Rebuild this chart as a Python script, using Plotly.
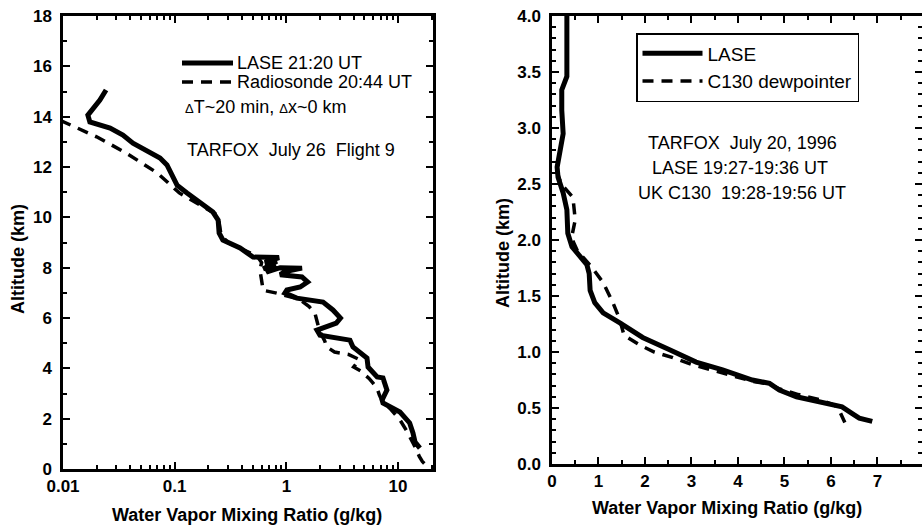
import plotly.graph_objects as go

# ---------------- Left panel data (log x) ----------------
lase_l_x = [0.0243, 0.0214, 0.0167, 0.0174, 0.0264, 0.0344, 0.0423, 0.0565, 0.0739, 0.0853,
            0.0966, 0.105, 0.129, 0.168, 0.220, 0.245, 0.25, 0.27, 0.385, 0.503,
            0.75, 0.86, 0.64, 0.82, 0.62, 0.80, 0.66, 0.88, 1.38, 0.98, 0.88,
            1.38, 1.55, 1.33, 1.01, 0.97, 1.24, 2.13, 2.61, 3.05, 2.8, 2.13, 1.88, 2.0, 3.02,
            3.71, 3.95, 4.79, 5.27, 5.39, 5.96, 6.5, 7.33, 7.95, 7.2, 7.33, 10.4, 12.7,
            13.6, 14.2, 15.7]
lase_l_alt = [15.06, 14.66, 14.06, 13.79, 13.55, 13.27, 12.95, 12.67, 12.36, 12.08,
              11.6, 11.28, 10.97, 10.61, 10.21, 9.89, 9.38, 9.1, 8.78, 8.42,
              8.42, 8.40, 8.2, 8.25, 7.95, 8.1, 7.82, 8.0, 7.98, 7.85, 7.72,
              7.63, 7.43, 7.23, 7.11, 6.99, 6.79, 6.63, 6.32, 6.0, 5.8, 5.64, 5.52, 5.32, 5.2,
              5.12, 4.85, 4.53, 4.41, 4.05, 3.85, 3.66, 3.62, 3.14, 2.74, 2.62, 2.26, 1.83,
              1.43, 1.07, 0.83]

sonde_x = [0.0095, 0.02, 0.037, 0.07, 0.11, 0.18, 0.23, 0.25, 0.26, 0.3, 0.42, 0.55, 0.6,
           0.58, 0.6, 0.62, 0.8, 1.0, 1.3, 1.6, 1.8, 1.9, 2.0, 2.2, 2.3, 2.7, 3.6, 4.5,
           4.0, 4.6, 5.5, 6.0, 6.5, 6.8, 7.2, 8.5, 10.4, 12.0, 13.6, 14.5, 15.5, 16.5, 18.5]
sonde_alt = [13.85, 13.2, 12.55, 11.76, 10.97, 10.41, 10.15, 9.8, 9.3, 9.0, 8.7, 8.45, 8.2,
             7.9, 7.5, 7.1, 7.0, 6.9, 6.75, 6.45, 6.2, 5.8, 5.45, 5.1, 4.85, 4.65, 4.55, 4.35,
             4.05, 3.9, 3.6, 3.4, 3.2, 2.95, 2.7, 2.4, 1.95, 1.5, 1.05, 0.8, 0.5, 0.3, 0.08]

# ---------------- Right panel data (linear x) ----------------
lase_r_x = [0.32, 0.34, 0.32, 0.21, 0.21, 0.24, 0.17, 0.11, 0.13, 0.24, 0.32, 0.34, 0.43,
            0.60, 0.75, 0.80, 0.82, 0.92, 1.10, 1.46, 1.95, 2.53, 3.10, 3.67, 4.31, 4.68,
            4.89, 5.26, 5.75, 6.24, 6.46, 6.61, 6.89]
lase_r_alt = [4.0, 3.54, 3.46, 3.34, 3.16, 2.95, 2.77, 2.65, 2.56, 2.42, 2.27, 2.06, 1.94,
              1.85, 1.78, 1.70, 1.55, 1.44, 1.35, 1.26, 1.13, 1.02, 0.91, 0.84, 0.75, 0.72,
              0.66, 0.60, 0.55, 0.51, 0.45, 0.41, 0.38]

c130_x = [0.10, 0.20, 0.45, 0.50, 0.42, 0.55, 0.85, 1.10, 1.30, 1.45, 1.55, 1.90, 2.20,
          2.60, 3.00, 3.60, 4.30, 4.70, 4.90, 5.30, 5.80, 6.10, 6.20, 6.30]
c130_alt = [2.62, 2.50, 2.38, 2.18, 2.02, 1.90, 1.76, 1.62, 1.45, 1.30, 1.15, 1.06, 1.00,
            0.95, 0.89, 0.82, 0.74, 0.71, 0.67, 0.62, 0.57, 0.52, 0.46, 0.37]

# ---------------- tick labels ----------------
left_x_ticks = [0.01, 0.1, 1, 10]
left_x_text = ["0.01", "0.1", "1", "10"]
left_x_minor = [a * m for a in (0.01, 0.1, 1, 10) for m in range(2, 10) if a * m < 21]

W, H = 922, 527
FONT = "Liberation Sans, Arial, sans-serif"

fig = go.Figure()
fig.add_trace(go.Scatter(x=sonde_x, y=sonde_alt, mode="lines", name="Radiosonde 20:44 UT",
                         line=dict(color="black", width=3.5, dash="11px,8px"),
                         xaxis="x", yaxis="y", showlegend=False))
fig.add_trace(go.Scatter(x=lase_l_x, y=lase_l_alt, mode="lines", name="LASE 21:20 UT",
                         line=dict(color="black", width=5),
                         xaxis="x", yaxis="y", showlegend=False))
fig.add_trace(go.Scatter(x=lase_r_x, y=lase_r_alt, mode="lines", name="LASE",
                         line=dict(color="black", width=5),
                         xaxis="x2", yaxis="y2", showlegend=True))
fig.add_trace(go.Scatter(x=c130_x, y=c130_alt, mode="lines", name="C130 dewpointer",
                         line=dict(color="black", width=3.5, dash="11px,8px"),
                         xaxis="x2", yaxis="y2", showlegend=True))

tickfont = dict(family=FONT, size=17, color="black", weight="bold")
common = dict(showgrid=False, zeroline=False, showline=True, linecolor="black", linewidth=2.5,
              mirror="ticks", ticks="inside", tickcolor="black", tickwidth=2, ticklen=7,
              tickfont=tickfont, automargin=False)

fig.update_layout(
    width=W, height=H, margin=dict(l=0, r=0, t=0, b=0),
    paper_bgcolor="white", plot_bgcolor="white",
    xaxis=dict(type="log", range=[-2, 1.313], domain=[63 / W, 433 / W], anchor="y",
               tickvals=left_x_ticks, ticktext=left_x_text, ticklabelstandoff=0,
               minor=dict(ticks="inside", ticklen=4, tickwidth=1.5, tickcolor="black",
                          tickvals=left_x_minor), **common),
    yaxis=dict(range=[0, 18], domain=[1 - 469 / H, 1 - 16 / H], anchor="x", dtick=2,
               ticklabelstandoff=5,
               minor=dict(ticks="inside", ticklen=4, tickwidth=1.5, tickcolor="black", dtick=1),
               **common),
    xaxis2=dict(range=[0, 7.96], domain=[552 / W, 1.0], anchor="y2", dtick=1,
                ticklabelstandoff=0,
                minor=dict(ticks="inside", ticklen=4, tickwidth=1.5, tickcolor="black", dtick=0.5),
                **common),
    yaxis2=dict(range=[0, 4], domain=[1 - 464 / H, 1 - 16 / H], anchor="x2", dtick=0.5,
                tickformat=".1f", ticklabelstandoff=5,
                minor=dict(ticks="inside", ticklen=4, tickwidth=1.5, tickcolor="black", dtick=0.1),
                **common),
    legend=dict(x=636 / W, y=1 - 33 / H, xanchor="left", yanchor="top",
                bgcolor="white", bordercolor="black", borderwidth=1.5,
                font=dict(family=FONT, size=19, color="black"),
                itemwidth=60, tracegroupgap=0),
    showlegend=True,
)

ann_font = dict(family=FONT, size=18, color="black")
title_font = dict(family=FONT, size=18, color="black", weight="bold")

annotations = [
    # left panel legend text
    dict(x=235 / W, y=1 - 63 / H, text="LASE 21:20 UT", xanchor="left", yanchor="middle"),
    dict(x=235 / W, y=1 - 82 / H, text="Radiosonde 20:44 UT", xanchor="left", yanchor="middle"),
    dict(x=183 / W, y=1 - 107 / H,
         text="<span style='font-size:13px'>Δ</span>T~20 min, <span style='font-size:13px'>Δ</span>x~0 km",
         xanchor="left", yanchor="middle"),
    dict(x=185 / W, y=1 - 150 / H, text="TARFOX  July 26  Flight 9", xanchor="left", yanchor="middle"),
    # right panel text
    dict(x=742 / W, y=1 - 143 / H, text="TARFOX  July 20, 1996", xanchor="center", yanchor="middle"),
    dict(x=740 / W, y=1 - 168 / H, text="LASE 19:27-19:36 UT", xanchor="center", yanchor="middle"),
    dict(x=742 / W, y=1 - 193 / H, text="UK C130  19:28-19:56 UT", xanchor="center", yanchor="middle"),
]
for a in annotations:
    a.update(xref="paper", yref="paper", showarrow=False, font=ann_font)

titles = [
    dict(x=18 / W, y=1 - 259 / H, text="Altitude (km)", textangle=-90),
    dict(x=503 / W, y=1 - 253 / H, text="Altitude (km)", textangle=-90),
    dict(x=247 / W, y=1 - 515 / H, text="Water Vapor Mixing Ratio (g/kg)"),
    dict(x=727 / W, y=1 - 508 / H, text="Water Vapor Mixing Ratio (g/kg)"),
]
for a in titles:
    a.update(xref="paper", yref="paper", showarrow=False, font=title_font,
             xanchor="center", yanchor="middle")

fig.update_layout(annotations=annotations + titles)

# left panel legend samples
fig.add_shape(type="line", xref="paper", yref="paper", x0=182 / W, x1=233 / W,
              y0=1 - 63 / H, y1=1 - 63 / H, line=dict(color="black", width=5))
fig.add_shape(type="line", xref="paper", yref="paper", x0=182 / W, x1=233 / W,
              y0=1 - 82 / H, y1=1 - 82 / H, line=dict(color="black", width=3.5, dash="11px,8px"))

fig.write_html("out.html")
